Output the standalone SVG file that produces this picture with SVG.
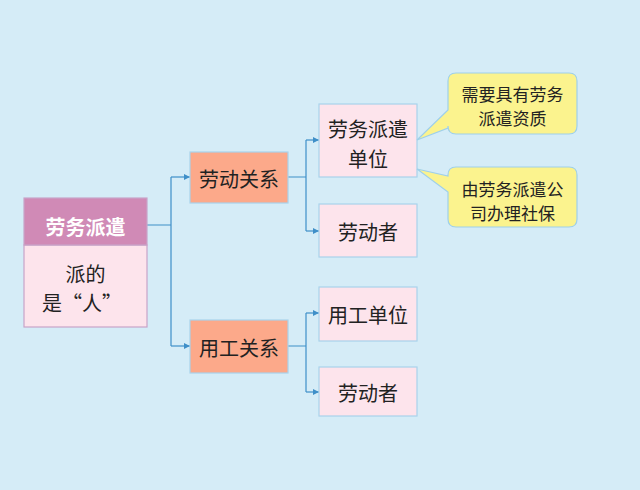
<svg xmlns="http://www.w3.org/2000/svg" width="640" height="490" viewBox="0 0 640 490">
<defs>
<style>
text{font-family:"Noto Sans CJK SC","Liberation Sans",sans-serif;text-anchor:middle;dominant-baseline:central;fill:#222}
.pink{fill:#fde4ec;stroke:#a9d3ec;stroke-width:1.2}
.orange{fill:#fca98a;stroke:#a9d3ec;stroke-width:1.2}
.call{fill:#fbf38e;stroke:#9fd0ea;stroke-width:1.2}
.t19{font-size:20px}
.t16{font-size:17px}
.conn{fill:none;stroke:#3f8fc8;stroke-width:1.2}
</style>
<marker id="arr" viewBox="0 0 6 6" refX="6" refY="3" markerWidth="5" markerHeight="5" orient="auto">
<path d="M0,0 L6,3 L0,6 z" fill="#3f8fc8"/>
</marker>
</defs>
<rect width="640" height="490" fill="#d5ecf7"/>
<g id="connectors">
<path class="conn" d="M147,225 H171 M171,177 V346"/>
<path class="conn" d="M171,177 H190" marker-end="url(#arr)"/>
<path class="conn" d="M171,346 H190" marker-end="url(#arr)"/>
<path class="conn" d="M288,177 H306 M306,140 V231"/>
<path class="conn" d="M306,140 H319" marker-end="url(#arr)"/>
<path class="conn" d="M306,231 H319" marker-end="url(#arr)"/>
<path class="conn" d="M288,346 H306 M306,313 V392"/>
<path class="conn" d="M306,313 H319" marker-end="url(#arr)"/>
<path class="conn" d="M306,392 H319" marker-end="url(#arr)"/>
</g>
<g id="root">
<rect x="24" y="245" width="123" height="82" fill="#fde4ec" stroke="#c9a3c8" stroke-width="1.2"/>
<rect x="24" y="198" width="123" height="47" fill="#d08ab6" stroke="#c9a3c8" stroke-width="1.2"/>
<text x="85.5" y="226" class="t19" style="fill:#fff;font-weight:bold">劳务派遣</text>
<text x="85.5" y="273" class="t19">派的</text>
<text x="82" y="302" class="t19">是“人”</text>
</g>
<g id="labor-relation">
<rect class="orange" x="190" y="152" width="98" height="51"/>
<text x="239" y="178" class="t19">劳动关系</text>
</g>
<g id="employ-relation">
<rect class="orange" x="190" y="320" width="98" height="53"/>
<text x="239" y="347" class="t19">用工关系</text>
</g>
<g id="dispatch-unit">
<rect class="pink" x="319" y="104" width="98" height="73"/>
<text x="368" y="128" class="t19">劳务派遣</text>
<text x="368" y="158" class="t19">单位</text>
</g>
<g id="worker1">
<rect class="pink" x="319" y="204" width="98" height="53"/>
<text x="368" y="231" class="t19">劳动者</text>
</g>
<g id="employ-unit">
<rect class="pink" x="319" y="287" width="98" height="54"/>
<text x="368" y="314" class="t19">用工单位</text>
</g>
<g id="worker2">
<rect class="pink" x="319" y="367" width="98" height="49"/>
<text x="368" y="392" class="t19">劳动者</text>
</g>
<g id="callout1">
<path class="call" d="M456,73 H569 Q577,73 577,81 V126 Q577,134 569,134 H456 Q448,134 448,126 V128 L417,140 L448,110 V81 Q448,73 456,73 Z"/>
<text x="512.5" y="93" class="t16">需要具有劳务</text>
<text x="512.5" y="117" class="t16">派遣资质</text>
</g>
<g id="callout2">
<path class="call" d="M456,167 H569 Q577,167 577,175 V219 Q577,227 569,227 H456 Q448,227 448,219 V192 L417,169 L448,176 V175 Q448,167 456,167 Z"/>
<text x="512.5" y="188" class="t16">由劳务派遣公</text>
<text x="512.5" y="212" class="t16">司办理社保</text>
</g>
</svg>
